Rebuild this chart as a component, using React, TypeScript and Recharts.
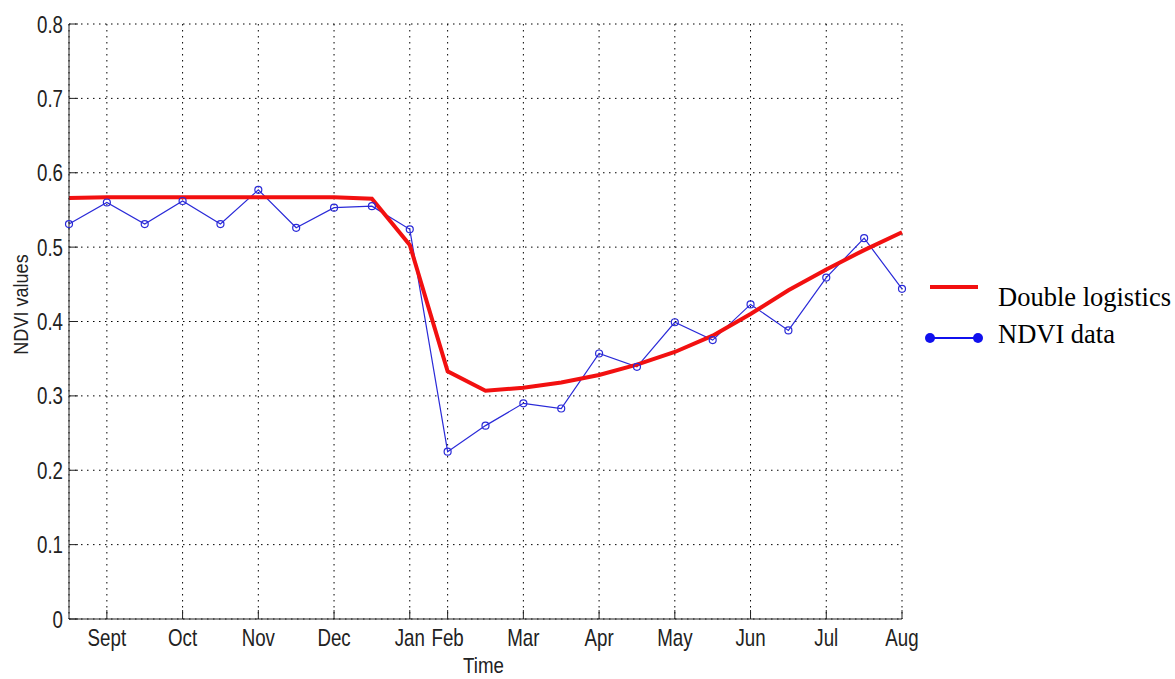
import React from 'react';
import { LineChart, Line, XAxis, YAxis, CartesianGrid, Label } from 'recharts';

// 16-day composites, index 0 = late Aug
const ndviData = [0.531, 0.56, 0.531, 0.562, 0.531, 0.577, 0.526, 0.553, 0.555, 0.524, 0.225, 0.26, 0.29, 0.283, 0.357, 0.339, 0.399, 0.375, 0.423, 0.388, 0.459, 0.512, 0.444];
const fitData = [0.566, 0.567, 0.567, 0.567, 0.567, 0.567, 0.567, 0.567, 0.565, 0.503, 0.333, 0.307, 0.311, 0.318, 0.328, 0.342, 0.359, 0.381, 0.41, 0.442, 0.47, 0.496, 0.52];
const monthTicks = [1, 3, 5, 7, 9, 10, 12, 14, 16, 18, 20, 22];
const monthLabels = ['Sept', 'Oct', 'Nov', 'Dec', 'Jan', 'Feb', 'Mar', 'Apr', 'May', 'Jun', 'Jul', 'Aug'];
const yTicks = [0, 0.1, 0.2, 0.3, 0.4, 0.5, 0.6, 0.7, 0.8];
const seriesNames = ['Double logistics', 'NDVI data'];

const rows = ndviData.map((v, i) => ({ t: i, ndvi: v, fit: fitData[i] }));

const FONT = 'Arial, "Liberation Sans", sans-serif';
const TXT = '#222';

const XTick = (props: any) => {
    const { x, y, payload } = props;
    const idx = monthTicks.indexOf(payload.value);
    return (
        <g transform={`translate(${x},${y + 27})`}>
            <text textAnchor="middle" transform="scale(0.78,1)" fontSize={24} fontFamily={FONT} fill={TXT}>
                {monthLabels[idx]}
            </text>
        </g>
    );
};

const YTick = (props: any) => {
    const { x, y, payload } = props;
    const v = payload.value;
    return (
        <g transform={`translate(${x},${y + 8.5})`}>
            <text textAnchor="end" transform="scale(0.78,1)" fontSize={24} fontFamily={FONT} fill={TXT}>
                {v === 0 ? '0' : v.toFixed(1)}
            </text>
        </g>
    );
};

const NoTick = () => <g />;

export default function App() {
    return (
        <div style={{ position: 'absolute', left: 0, top: 0, width: 1175, height: 679, background: '#fff' }}>
            <LineChart width={1175} height={679} data={rows} margin={{ top: 24, right: 273, bottom: 0, left: 0 }}>
                <CartesianGrid stroke="#000" strokeDasharray="1.5 4.5" />
                <XAxis
                    dataKey="t"
                    type="number"
                    domain={[0, 22]}
                    ticks={monthTicks}
                    height={60}
                    tickSize={-9}
                    tickMargin={9}
                    tick={<XTick />}
                    stroke="#222"
                    interval={0}
                >
                    <Label
                        content={(p: any) => {
                            const vb = p.viewBox;
                            return (
                                <g transform={`translate(${vb.x + vb.width / 2 - 2},${vb.y + 54})`}>
                                    <text textAnchor="middle" transform="scale(0.85,1)" fontSize={22} fontFamily={FONT} fill={TXT}>
                                        Time
                                    </text>
                                </g>
                            );
                        }}
                    />
                </XAxis>
                <XAxis
                    xAxisId="top"
                    orientation="top"
                    dataKey="t"
                    type="number"
                    domain={[0, 22]}
                    ticks={monthTicks}
                    height={0}
                    tickSize={-9}
                    tick={<NoTick />}
                    stroke="#222"
                    interval={0}
                />
                <YAxis
                    type="number"
                    domain={[0, 0.8]}
                    ticks={yTicks}
                    width={69}
                    tickSize={-9}
                    tickMargin={15}
                    tick={<YTick />}
                    stroke="#222"
                    interval={0}
                >
                    <Label
                        content={(p: any) => {
                            const vb = p.viewBox;
                            return (
                                <g transform={`translate(28,${vb.y + vb.height / 2 - 17}) rotate(-90)`}>
                                    <text textAnchor="middle" transform="scale(0.86,1)" fontSize={21} fontFamily={FONT} fill={TXT}>
                                        NDVI values
                                    </text>
                                </g>
                            );
                        }}
                    />
                </YAxis>
                <YAxis
                    yAxisId="right"
                    orientation="right"
                    type="number"
                    domain={[0, 0.8]}
                    ticks={yTicks}
                    width={0}
                    tickSize={-9}
                    tick={<NoTick />}
                    stroke="#222"
                    interval={0}
                />
                <Line
                    dataKey="ndvi"
                    name={seriesNames[1]}
                    stroke="#2a2ad8"
                    strokeWidth={1.2}
                    dot={{ r: 3.5, stroke: '#2a2ad8', strokeWidth: 1.2, fill: 'none' }}
                    type="linear"
                    isAnimationActive={false}
                />
                <Line
                    dataKey="fit"
                    name={seriesNames[0]}
                    stroke="#f21010"
                    strokeWidth={4}
                    dot={false}
                    type="linear"
                    isAnimationActive={false}
                />
            </LineChart>
            <svg width={1175} height={679} style={{ position: 'absolute', left: 0, top: 0, pointerEvents: 'none' }}>
                <line x1={930} x2={978} y1={287} y2={287} stroke="#f21010" strokeWidth={4} />
                <text x={998} y={306} fontSize={26.5} fontFamily='"Liberation Serif", "Times New Roman", serif' fill="#000">
                    {seriesNames[0]}
                </text>
                <line x1={930} x2={978} y1={338} y2={338} stroke="#1010ee" strokeWidth={2} />
                <circle cx={930} cy={338} r={5} fill="#1010ee" />
                <circle cx={978} cy={338} r={5} fill="#1010ee" />
                <text x={998} y={343} fontSize={26.5} fontFamily='"Liberation Serif", "Times New Roman", serif' fill="#000">
                    {seriesNames[1]}
                </text>
            </svg>
        </div>
    );
}
